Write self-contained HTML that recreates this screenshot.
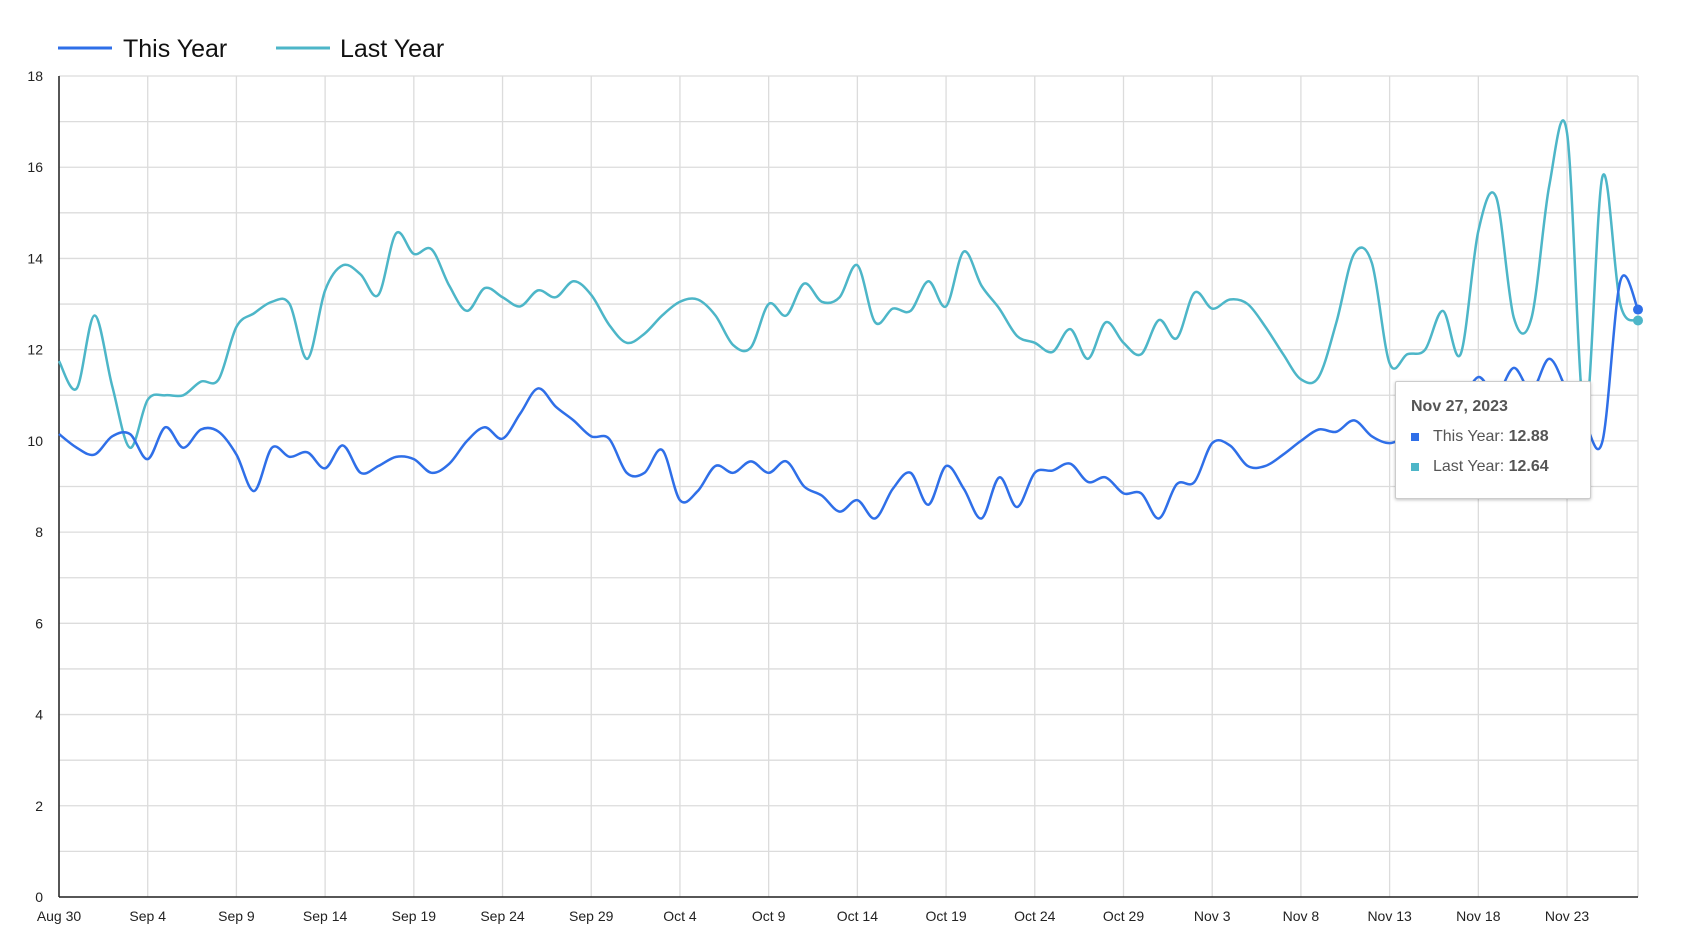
<!DOCTYPE html>
<html><head><meta charset="utf-8"><style>
body{margin:0;background:#fff;font-family:"Liberation Sans",sans-serif}
svg text{font-family:"Liberation Sans",sans-serif}
#tip{position:absolute;left:1395px;top:381px;width:194px;height:116px;background:#fff;border:1px solid #ccc;border-radius:2px;box-shadow:0 1px 3px rgba(0,0,0,.25);color:#555;font-size:16px}
</style></head><body>
<svg id="chart" width="1682" height="950" style="position:absolute;left:0;top:0"></svg>
<div id="tip">
<div style="position:absolute;left:15px;top:16px;font-weight:bold">Nov 27, 2023</div>
<div style="position:absolute;left:15px;top:46px"><span style="display:inline-block;width:8px;height:8px;background:#2f6fe8;margin-right:14px"></span>This Year: <b>12.88</b></div>
<div style="position:absolute;left:15px;top:76px"><span style="display:inline-block;width:8px;height:8px;background:#4db6c8;margin-right:14px"></span>Last Year: <b>12.64</b></div>
</div>
<script>
const thisYear=[10.15,9.85,9.7,10.1,10.15,9.6,10.3,9.85,10.25,10.2,9.7,8.9,9.85,9.65,9.75,9.4,9.9,9.3,9.45,9.65,9.6,9.3,9.5,10.0,10.3,10.05,10.6,11.15,10.75,10.45,10.1,10.05,9.3,9.3,9.8,8.7,8.9,9.45,9.3,9.55,9.3,9.55,9.0,8.8,8.45,8.7,8.3,8.95,9.3,8.6,9.45,8.95,8.3,9.2,8.55,9.3,9.35,9.5,9.1,9.2,8.85,8.85,8.3,9.05,9.1,9.95,9.9,9.45,9.45,9.7,10.0,10.25,10.2,10.45,10.1,9.95,10.1,10.2,10.5,10.8,11.4,11.0,11.6,11.1,11.8,11.1,10.4,10.0,13.5,12.88];
const lastYear=[11.75,11.15,12.75,11.2,9.85,10.9,11.0,11.0,11.3,11.35,12.5,12.8,13.05,13.0,11.8,13.3,13.85,13.65,13.2,14.55,14.1,14.2,13.4,12.85,13.35,13.15,12.95,13.3,13.15,13.5,13.2,12.55,12.15,12.35,12.75,13.05,13.1,12.75,12.1,12.05,13.0,12.75,13.45,13.05,13.15,13.85,12.6,12.9,12.85,13.5,12.95,14.15,13.4,12.9,12.3,12.15,11.95,12.45,11.8,12.6,12.15,11.9,12.65,12.25,13.25,12.9,13.1,13.0,12.5,11.9,11.35,11.4,12.6,14.1,13.9,11.7,11.9,12.0,12.85,11.9,14.6,15.35,12.7,12.7,15.6,16.75,10.5,15.8,13.0,12.64];
const xLabels=["Aug 30","Sep 4","Sep 9","Sep 14","Sep 19","Sep 24","Sep 29","Oct 4","Oct 9","Oct 14","Oct 19","Oct 24","Oct 29","Nov 3","Nov 8","Nov 13","Nov 18","Nov 23"];
const yTicks=[0,2,4,6,8,10,12,14,16,18];
const L=59,R=1638,T=76,B=897,N=thisYear.length;
const X=i=>L+i*(R-L)/(N-1), Y=v=>B-v*(B-T)/18;
const svg=document.getElementById('chart');const NS='http://www.w3.org/2000/svg';
function mk(t,a,p){const e=document.createElementNS(NS,t);for(const k in a)e.setAttribute(k,a[k]);(p||svg).appendChild(e);return e;}
for(let v=0;v<=18;v++){const g=mk('line',{x1:L,x2:R,y1:Y(v),y2:Y(v),stroke:'#dcdcdc','stroke-width':1.3});

}
xLabels.forEach((s,k)=>{const x=X(k*5);
const g=mk('line',{x1:x,x2:x,y1:T,y2:B,stroke:'#dcdcdc','stroke-width':1.3});


const t=mk('text',{x:x,y:921,'text-anchor':'middle','font-size':14,fill:'#222'});t.textContent=s;

});
const rg=mk('line',{x1:R,x2:R,y1:T,y2:B,stroke:'#dcdcdc','stroke-width':1.3});


yTicks.forEach(v=>{const t=mk('text',{x:43,y:Y(v)+5,'text-anchor':'end','font-size':14,fill:'#222'});t.textContent=v;

});
const ax=mk('line',{x1:L,x2:L,y1:T,y2:B,stroke:'#222','stroke-width':1.5});


const bx=mk('line',{x1:L,x2:R,y1:B,y2:B,stroke:'#222','stroke-width':1.5});


function path(arr){const p=arr.map((v,i)=>[X(i),Y(v)]);let d='M'+p[0][0]+','+p[0][1];
for(let i=0;i<p.length-1;i++){const p0=p[Math.max(0,i-1)],p1=p[i],p2=p[i+1],p3=p[Math.min(p.length-1,i+2)];
d+=' C'+(p1[0]+(p2[0]-p0[0])/6)+','+(p1[1]+(p2[1]-p0[1])/6)+' '+(p2[0]-(p3[0]-p1[0])/6)+','+(p2[1]-(p3[1]-p1[1])/6)+' '+p2[0]+','+p2[1];}return d;}
const l2=mk('path',{d:path(lastYear),fill:'none',stroke:'#4db6c8','stroke-width':2.5});


const l1=mk('path',{d:path(thisYear),fill:'none',stroke:'#2f6fe8','stroke-width':2.5});


const d1=mk('circle',{cx:X(N-1),cy:Y(thisYear[N-1]),r:5,fill:'#2f6fe8'});


const d2=mk('circle',{cx:X(N-1),cy:Y(lastYear[N-1]),r:5,fill:'#4db6c8'});


[['This Year','#2f6fe8',58,123],['Last Year','#4db6c8',276,340]].forEach(([s,c,x,tx])=>{
const g=mk('g',{});


mk('line',{x1:x,x2:x+54,y1:48,y2:48,stroke:c,'stroke-width':3},g);
const t=mk('text',{x:tx,y:57,'font-size':25,fill:'#111'},g);t.textContent=s;});
</script>
</body></html>
